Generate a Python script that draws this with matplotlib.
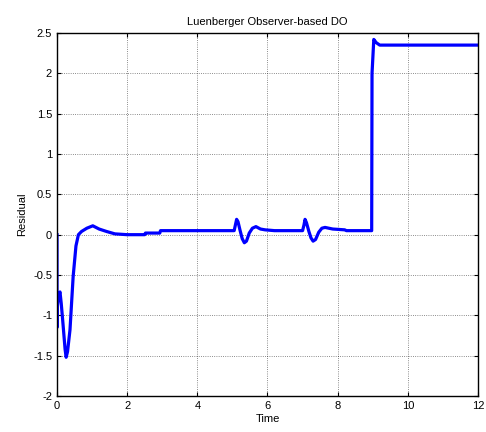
import matplotlib
matplotlib.use("Agg")
import matplotlib.pyplot as plt

plt.rcParams['font.family'] = ['Liberation Sans', 'DejaVu Sans']

# residual trace of the observer (time, value)
t = [0.0, 0.0, 0.01, 0.04, 0.085, 0.12, 0.16, 0.23, 0.26, 0.30, 0.37, 0.46, 0.54, 0.61,
     0.70, 0.85, 1.02, 1.2, 1.41, 1.65, 2.0, 2.5, 2.52, 2.93, 2.95, 4.0, 5.05, 5.09,
     5.12, 5.16, 5.22, 5.28, 5.34, 5.40, 5.48, 5.57, 5.67, 5.8, 5.93, 6.2, 7.0, 7.04,
     7.07, 7.11, 7.18, 7.24, 7.30, 7.37, 7.46, 7.55, 7.64, 7.86, 8.2, 8.25, 8.97, 8.98,
     9.03, 9.1, 9.2, 12.0]
r = [0.0, -1.15, -0.89, -0.76, -0.71, -0.85, -1.05, -1.42, -1.52, -1.45, -1.18, -0.52, -0.14, 0.0,
     0.04, 0.08, 0.11, 0.07, 0.04, 0.01, 0.0, 0.0, 0.02, 0.02, 0.05, 0.05, 0.05, 0.13,
     0.19, 0.16, 0.05, -0.05, -0.10, -0.08, 0.02, 0.08, 0.10, 0.07, 0.06, 0.05, 0.05, 0.12,
     0.19, 0.15, 0.04, -0.04, -0.08, -0.06, 0.03, 0.08, 0.09, 0.07, 0.06, 0.05, 0.05, 2.0,
     2.42, 2.38, 2.35, 2.35]

fig = plt.figure(figsize=(4.86, 4.32), dpi=100)
ax = fig.add_axes([0.1173, 0.0833, 0.8662, 0.8403])
ax.plot(t, r, color='#0000ff', linewidth=2.3, solid_joinstyle='round')

ax.set_xlim(0, 12)
ax.set_ylim(-2, 2.5)
ax.set_xticks(range(0, 13, 2))
ax.set_yticks([-2, -1.5, -1, -0.5, 0, 0.5, 1, 1.5, 2, 2.5])
ax.set_yticklabels(['-2', '-1.5', '-1', '-0.5', '0', '0.5', '1', '1.5', '2', '2.5'])
ax.grid(True, color='black', linestyle=':', linewidth=0.6, alpha=0.6)
ax.tick_params(direction='in', labelsize=8, length=3, top=True, right=True)
for s in ax.spines.values():
    s.set_linewidth(1.0)

ax.set_title('Luenberger Observer-based DO', fontsize=8, pad=6)
ax.set_xlabel('Time', fontsize=8, labelpad=2)
ax.set_ylabel('Residual', fontsize=8, labelpad=4)

fig.savefig('out.png', dpi=100)
